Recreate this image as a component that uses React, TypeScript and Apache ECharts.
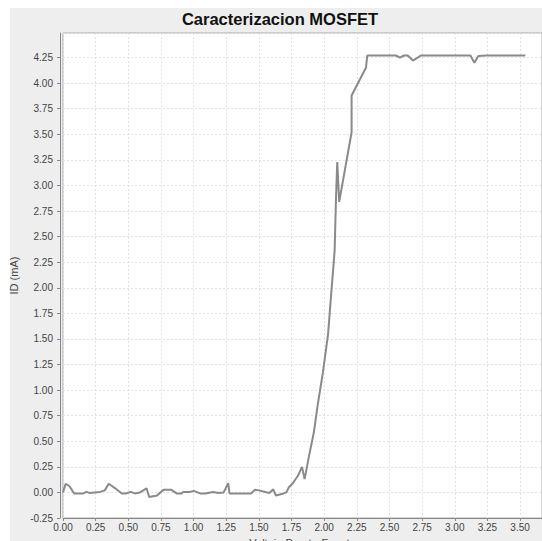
import React, { useEffect, useRef } from "react";
import * as echarts from "echarts";

const voltage = [
  0.0, 0.02, 0.05, 0.085, 0.155, 0.18, 0.2, 0.285, 0.32, 0.35, 0.4, 0.45, 0.48, 0.52, 0.55, 0.59,
  0.64, 0.66, 0.72, 0.75, 0.77, 0.83, 0.87, 0.91, 0.92, 0.97, 1.0, 1.05, 1.09, 1.15, 1.19, 1.23,
  1.265, 1.275, 1.44, 1.47, 1.5, 1.58, 1.61, 1.63, 1.69, 1.71, 1.73, 1.76, 1.8, 1.83, 1.85, 1.88,
  1.92, 1.95, 1.99, 2.03, 2.05, 2.08, 2.09, 2.1, 2.115, 2.21, 2.21, 2.32, 2.33, 2.55, 2.58, 2.61,
  2.64, 2.68, 2.74, 3.12, 3.15, 3.18, 3.24, 3.54,
];
const currentMA = [
  0.0, 0.085, 0.06, -0.01, -0.01, 0.005, -0.005, 0.005, 0.02, 0.085, 0.04, -0.01, -0.01, 0.005, -0.01, 0.0,
  0.04, -0.045, -0.03, 0.005, 0.025, 0.025, -0.01, -0.01, 0.005, 0.005, 0.015, -0.01, -0.01, 0.005, -0.005, 0.0,
  0.09, -0.01, -0.01, 0.025, 0.02, -0.005, 0.03, -0.03, -0.01, 0.0, 0.05, 0.09, 0.165, 0.25, 0.13, 0.33,
  0.58, 0.85, 1.17, 1.55, 1.88, 2.36, 2.85, 3.23, 2.84, 3.52, 3.88, 4.15, 4.27, 4.27, 4.25, 4.27,
  4.27, 4.22, 4.27, 4.27, 4.2, 4.265, 4.27, 4.27,
];

const titleText = "Caracterizacion MOSFET";
const xAxisName = "Voltaje Puerta-Fuente";
const yAxisName = "ID (mA)";

export default function App() {
  const ref = useRef<HTMLDivElement>(null);
  useEffect(() => {
    if (!ref.current) return;
    const chart = echarts.init(ref.current, null, { renderer: "svg" });
    const font = "'Liberation Sans', Arial, sans-serif";
    const gridLine = { color: "#e2e2e2", type: [2, 2], width: 1 };
    chart.setOption({
      animation: false,
      backgroundColor: "#ffffff",
      graphic: [
        {
          type: "rect",
          z: -10,
          silent: true,
          shape: { x: 10, y: 8, width: 532, height: 533 },
          style: { fill: "#eeeeee" },
        },
      ],
      title: {
        text: titleText,
        left: 280,
        textAlign: "center",
        top: 10,
        padding: 0,
        textStyle: { fontFamily: font, fontSize: 16.5, fontWeight: "bold", color: "#111" },
      },
      grid: {
        left: 63,
        right: 0,
        top: 33,
        bottom: 23,
        containLabel: false,
        outerBoundsMode: "none",
        show: true,
        backgroundColor: "#ffffff",
        borderColor: "#aaaaaa",
        borderWidth: 1,
      },
      xAxis: {
        type: "value",
        min: 0,
        max: 3.668,
        interval: 0.25,
        name: xAxisName,
        nameLocation: "middle",
        nameGap: 19,
        nameTextStyle: { fontFamily: font, fontSize: 11, color: "#444", verticalAlign: "top" },
        axisLine: { show: true, onZero: false, lineStyle: { color: "#888", width: 1 } },
        axisTick: { show: true, length: 3, lineStyle: { color: "#888" } },
        axisLabel: {
          showMaxLabel: false,
          fontFamily: font,
          fontSize: 10,
          color: "#444",
          margin: 4,
          formatter: (v: number) => v.toFixed(2),
        },
        splitLine: { show: true, lineStyle: gridLine },
      },
      yAxis: {
        type: "value",
        min: -0.25,
        max: 4.49,
        interval: 0.25,
        offset: 3,
        name: yAxisName,
        nameLocation: "middle",
        nameGap: 40,
        nameRotate: 90,
        nameTextStyle: { fontFamily: font, fontSize: 11, color: "#444" },
        axisLine: { show: true, onZero: false, lineStyle: { color: "#888", width: 1 } },
        axisTick: { show: true, length: 3, lineStyle: { color: "#888" } },
        axisLabel: {
          showMaxLabel: false,
          fontFamily: font,
          fontSize: 10,
          color: "#444",
          margin: 7,
          formatter: (v: number) => v.toFixed(2),
        },
        splitLine: { show: true, lineStyle: gridLine },
      },
      series: [
        {
          type: "line",
          data: voltage.map((v, i) => [v, currentMA[i]]),
          showSymbol: false,
          symbol: "none",
          lineStyle: { color: "#8a8a8a", width: 2 },
        },
      ],
    });
    return () => chart.dispose();
  }, []);
  return (
    <div
      ref={ref}
      style={{ position: "fixed", left: 0, top: 0, width: 542, height: 541 }}
    />
  );
}
